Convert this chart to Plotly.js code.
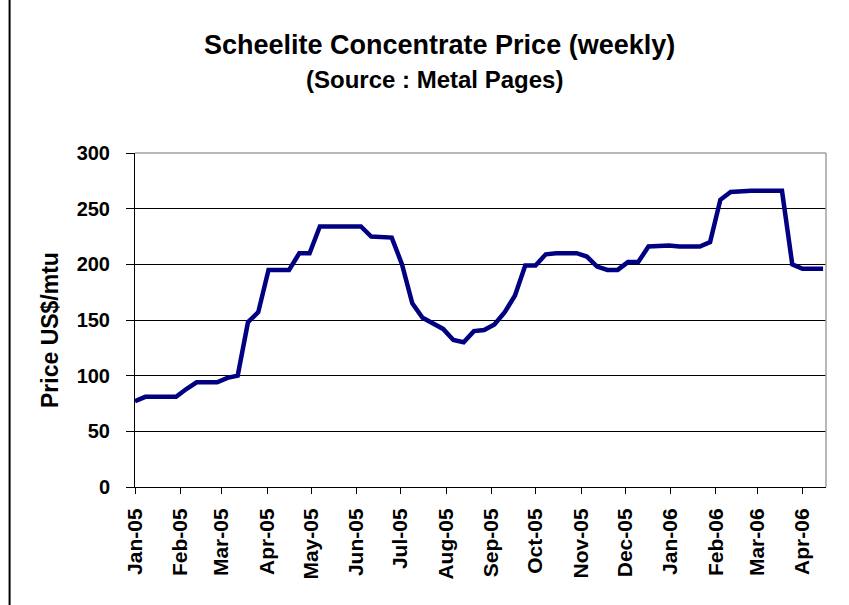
<!DOCTYPE html>
<html>
<head>
<meta charset="utf-8">
<script src="https://cdn.plot.ly/plotly-3.0.1.min.js"></script>
<style>html,body{margin:0;padding:0;background:#fff;}#chart{width:849px;height:605px;}</style>
</head>
<body>
<div id="chart"></div>
<script>
// Weekly dates
const weeks = [
  "2005-01-01","2005-01-08","2005-01-15","2005-01-22","2005-01-29",
  "2005-02-05","2005-02-12","2005-02-19","2005-02-26",
  "2005-03-05","2005-03-12","2005-03-19","2005-03-26",
  "2005-04-02","2005-04-09","2005-04-16","2005-04-23","2005-04-30",
  "2005-05-07","2005-05-14","2005-05-21","2005-05-28",
  "2005-06-04","2005-06-11","2005-06-18","2005-06-25",
  "2005-07-02","2005-07-09","2005-07-16","2005-07-23","2005-07-30",
  "2005-08-06","2005-08-13","2005-08-20","2005-08-27",
  "2005-09-03","2005-09-10","2005-09-17","2005-09-24",
  "2005-10-01","2005-10-08","2005-10-15","2005-10-22","2005-10-29",
  "2005-11-05","2005-11-12","2005-11-19","2005-11-26",
  "2005-12-03","2005-12-10","2005-12-17","2005-12-24","2005-12-31",
  "2006-01-07","2006-01-14","2006-01-21","2006-01-28",
  "2006-02-04","2006-02-11","2006-02-18","2006-02-25",
  "2006-03-04","2006-03-11","2006-03-18","2006-03-25",
  "2006-04-01","2006-04-08","2006-04-15"
];
// Scheelite concentrate price, US$/mtu
const price = [
  77, 81, 81, 81, 81,
  88, 94, 94, 94,
  98, 100, 148, 157,
  195, 195, 195, 210, 210,
  234, 234, 234, 234,
  234, 225, 224, 224,
  200, 165, 152, 147, 142,
  132, 130, 140, 141,
  146, 157, 172, 199,
  199, 209, 210, 210, 210,
  207, 198, 195, 195,
  202, 202, 216, 217, 217,
  216, 216, 216, 220,
  258, 265, 266, 266,
  266, 266, 266, 200,
  196, 196, 196
];
const yTicks = [0, 50, 100, 150, 200, 250, 300];
const xRange = ["2005-01-01", "2006-04-17"];

const titleText = "Scheelite Concentrate Price (weekly)";
const subtitleText = "(Source : Metal Pages)";
const yTitleText = "Price US$/mtu";

const FONT = "Liberation Sans, Arial, sans-serif";

const trace = {
  x: weeks, y: price, type: "scatter", mode: "lines",
  line: {color: "#000080", width: 4.5},
  hoverinfo: "x+y"
};

const layout = {
  width: 849, height: 605,
  margin: {l: 135, r: 23, t: 153, b: 118, pad: 0},
  paper_bgcolor: "#ffffff", plot_bgcolor: "#ffffff",
  font: {family: FONT, color: "#000000"},
  showlegend: false,
  xaxis: {
    type: "date", range: xRange,
    tick0: "2005-01-01", dtick: "M1", tickformat: "%b-%y",
    tickangle: -90,
    tickfont: {family: FONT, size: 21, weight: "bold", color: "#000"},
    ticks: "outside", ticklen: 6, tickcolor: "#000", tickwidth: 1,
    showgrid: false, zeroline: false,
    showline: true, linecolor: "#000", linewidth: 1,
    ticklabelstandoff: 6
  },
  yaxis: {
    range: [0, 300], tickvals: yTicks,
    tickfont: {family: FONT, size: 20, weight: "bold", color: "#000"},
    ticks: "outside", ticklen: 8, tickcolor: "#000", tickwidth: 1,
    showgrid: true, gridcolor: "#000000", gridwidth: 1,
    zeroline: false, showline: true, linecolor: "#000", linewidth: 1,
    ticklabelstandoff: 12
  },
  shapes: [
    {type: "line", xref: "paper", yref: "paper", x0: 0, x1: 1, y0: 1, y1: 1,
     line: {color: "#a0a0a0", width: 1.5}, layer: "above"},
    {type: "line", xref: "paper", yref: "paper", x0: 1, x1: 1, y0: 0, y1: 1,
     line: {color: "#a0a0a0", width: 1.5}, layer: "above"},
    {type: "line", xref: "paper", yref: "paper", x0: -0.1815, x1: -0.1815, y0: -0.36, y1: 1.46,
     line: {color: "#000", width: 2}}
  ],
  annotations: [
    {text: titleText, xref: "paper", yref: "paper", x: 0.44, y: 1.323,
     xanchor: "center", yanchor: "middle", showarrow: false,
     font: {family: FONT, size: 27, weight: "bold", color: "#000"}},
    {text: subtitleText, xref: "paper", yref: "paper", x: 0.434, y: 1.219,
     xanchor: "center", yanchor: "middle", showarrow: false,
     font: {family: FONT, size: 24, weight: "bold", color: "#000"}},
    {text: yTitleText, xref: "paper", yref: "paper", x: -0.123, y: 0.47,
     xanchor: "center", yanchor: "middle", showarrow: false, textangle: -90,
     font: {family: FONT, size: 23, weight: "bold", color: "#000"}}
  ]
};

Plotly.newPlot("chart", [trace], layout, {displayModeBar: false, staticPlot: true});
</script>
</body>
</html>
